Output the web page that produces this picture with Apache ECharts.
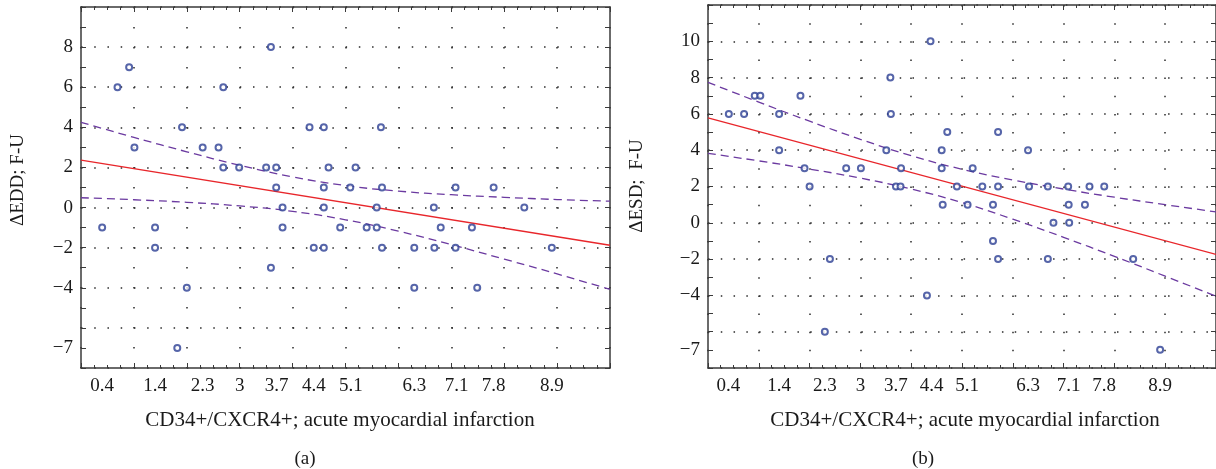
<!DOCTYPE html>
<html>
<head>
<meta charset="utf-8">
<script src="https://cdn.jsdelivr.net/npm/echarts@6/dist/echarts.min.js"></script>
<style>
html,body{margin:0;padding:0;background:#fff;}
#c{width:1216px;height:469px;}
</style>
</head>
<body>
<div id="c"></div>
<script>
// ---- data ----
const xTickLabels = [0.4, 1.4, 2.3, 3, 3.7, 4.4, 5.1, 6.3, 7.1, 7.8, 8.9];
const yTickLabelsA = [8, 6, 4, 2, 0, -2, -4, -7];
const yTickLabelsB = [10, 8, 6, 4, 2, 0, -2, -4, -7];

// panel (a): ΔEDD
const ptsAx = [0.69, 0.91, 1.01, 1.91, 2.30, 2.60, 2.69, 2.69, 2.99, 3.59, 3.50, 3.69, 3.69, 4.32, 4.59, 5.67, 4.68, 5.19, 4.59, 5.09, 5.69, 7.08, 7.80,
               0.40, 1.40, 1.40, 2.00, 1.82, 3.59, 3.81, 3.81, 4.59, 5.59, 6.67, 8.38, 4.90, 5.40, 5.59, 6.80, 7.39, 4.40, 4.59, 5.69, 6.30, 6.68, 7.08, 8.90, 6.30, 7.49];
const ptsAy = [6, 7, 3, 4, 3, 3, 6, 2, 2, 8, 2, 2, 1, 4, 4, 4, 2, 2, 1, 1, 1, 1, 1,
               -1, -1, -2, -4, -7, -3, 0, -1, 0, 0, 0, 0, -1, -1, -1, -1, -1, -2, -2, -2, -2, -2, -2, -2, -4, -4];
const fitAx = [0, 10];
const fitAy = [2.37, -1.88];
const bandX = [0, 1, 2, 3, 4, 5, 6, 7, 8, 9, 10];
const bandAup = [4.25, 3.50, 2.78, 2.11, 1.53, 1.10, 0.82, 0.64, 0.51, 0.40, 0.32];
const bandAlo = [0.49, 0.39, 0.26, 0.08, -0.19, -0.61, -1.18, -1.85, -2.57, -3.31, -4.08];

// panel (b): ΔESD
const ptsBx = [0.41, 0.71, 0.92, 1.03, 1.40, 1.40, 1.82, 1.90, 2.00, 2.72, 3.01, 3.59, 3.60, 3.51, 3.80, 3.70, 3.79, 4.38, 4.71, 5.71, 4.60, 6.30, 4.60, 5.21,
               4.90, 5.40, 5.71, 6.32, 6.69, 7.09, 7.51, 7.80, 2.40, 2.30, 4.62, 5.11, 5.61, 7.10, 7.42, 6.80, 7.11, 5.61, 5.71, 6.69, 8.37, 4.31, 8.90];
const ptsBy = [6, 6, 7, 7, 6, 4, 7, 3, 2, 3, 3, 8, 6, 4, 3, 2, 2, 10, 5, 5, 4, 4, 3, 3,
               2, 2, 2, 2, 2, 2, 2, 2, -2, -6, 1, 1, 1, 1, 1, 0, 0, -1, -2, -2, -2, -4, -7];
const fitBx = [0, 10];
const fitBy = [5.78, -1.74];
const bandBup = [7.74, 6.65, 5.60, 4.60, 3.70, 2.95, 2.36, 1.86, 1.41, 1.00, 0.60];
const bandBlo = [3.83, 3.41, 2.96, 2.46, 1.86, 1.11, 0.20, -0.80, -1.85, -2.94, -4.04];

// ---- styling ----
const FONT = "'Liberation Serif', 'DejaVu Serif', serif";
const AX = '#3a3a3a';
const DOT = '#2a2a2a';
const PT = '#2c3f94';
const RED = '#e8262b';
const PUR = '#6b3aa0';
const TXT = '#1a1a1a';

function fmt(v) { return v < 0 ? '\u2212' + Math.abs(v) : String(v); }
function zip(xs, ys) { return xs.map((x, i) => [x, ys[i]]); }

function xAxes(g, vPeriod) {
  const base = {
    type: 'value', gridIndex: g, min: 0, max: 10, interval: 1,
    axisLine: { show: true, onZero: false, lineStyle: { color: AX, width: 1.5 } },
    axisTick: { show: true, inside: true, length: 5, lineStyle: { color: AX, width: 1 } },
    minorTick: { show: true, splitNumber: 4, length: 3, lineStyle: { color: AX, width: 1 } },
    minorSplitLine: { show: false }
  };
  return [
    Object.assign({}, base, {
      position: 'bottom',
      axisLabel: { customValues: xTickLabels, formatter: fmt, fontFamily: FONT, fontSize: 19, color: TXT, margin: 9 },
      splitLine: { show: true, lineStyle: { color: DOT, width: 1.5, type: [1.5, vPeriod - 1.5] } }
    }),
    Object.assign({}, base, {
      position: 'top',
      axisLabel: { show: false },
      splitLine: { show: false }
    })
  ];
}
function yAxes(g, min, max, labels, hPeriod) {
  const base = {
    type: 'value', gridIndex: g, min: min, max: max, interval: 2,
    axisLine: { show: true, onZero: false, lineStyle: { color: AX, width: 1.5 } },
    axisTick: { show: true, inside: true, length: 5, lineStyle: { color: AX, width: 1 } },
    minorTick: { show: true, splitNumber: 2, length: 5, lineStyle: { color: AX, width: 1 } },
    minorSplitLine: { show: false }
  };
  return [
    Object.assign({}, base, {
      position: 'left',
      axisLabel: { customValues: labels, formatter: fmt, fontFamily: FONT, fontSize: 19, color: TXT, margin: 8 },
      splitLine: { show: true, lineStyle: { color: DOT, width: 1.5, type: [1.5, hPeriod - 1.5] } }
    }),
    Object.assign({}, base, {
      position: 'right',
      axisLabel: { show: false },
      splitLine: { show: false }
    })
  ];
}

function panelSeries(xi, yi, px, py, fx, fy, up, lo) {
  return [
    { type: 'line', xAxisIndex: xi, yAxisIndex: yi, data: zip(bandX, up), smooth: 0.5, showSymbol: false, silent: true,
      lineStyle: { color: PUR, width: 1.3, type: [8, 5] }, z: 3 },
    { type: 'line', xAxisIndex: xi, yAxisIndex: yi, data: zip(bandX, lo), smooth: 0.5, showSymbol: false, silent: true,
      lineStyle: { color: PUR, width: 1.3, type: [8, 5] }, z: 3 },
    { type: 'line', xAxisIndex: xi, yAxisIndex: yi, data: zip(fx, fy), showSymbol: false, silent: true,
      lineStyle: { color: RED, width: 1.3 }, z: 4 },
    { type: 'scatter', xAxisIndex: xi, yAxisIndex: yi, data: zip(px, py), symbol: 'emptyCircle', symbolSize: 6,
      itemStyle: { color: PT, borderColor: PT, borderWidth: 1.4 }, z: 5 }
  ];
}

const chart = echarts.init(document.getElementById('c'), null, { renderer: 'canvas' });
chart.setOption({
  animation: false,
  backgroundColor: '#fff',
  grid: [
    { left: 81, top: 7, right: 606, bottom: 101 },
    { left: 708, top: 5, right: -3, bottom: 101 }
  ],
  xAxis: [].concat(xAxes(0, 20), xAxes(1, 18.15)),
  yAxis: [].concat(yAxes(0, -8, 10, yTickLabelsA, 13.23), yAxes(1, -8, 12, yTickLabelsB, 12.78)),
  series: [].concat(
    panelSeries(0, 0, ptsAx, ptsAy, fitAx, fitAy, bandAup, bandAlo),
    panelSeries(2, 2, ptsBx, ptsBy, fitBx, fitBy, bandBup, bandBlo)
  ),
  graphic: [
    { type: 'text', x: 18, y: 180, rotation: Math.PI / 2, style: { text: '\u0394EDD; F-U', font: '19px ' + FONT, fill: TXT, textAlign: 'center', textVerticalAlign: 'middle' } },
    { type: 'text', x: 637, y: 186, rotation: Math.PI / 2, style: { text: '\u0394ESD;  F-U', font: '19px ' + FONT, fill: TXT, textAlign: 'center', textVerticalAlign: 'middle' } },
    { type: 'text', x: 340, y: 420, style: { text: 'CD34+/CXCR4+; acute myocardial infarction', font: '21px ' + FONT, fill: TXT, textAlign: 'center', textVerticalAlign: 'middle' } },
    { type: 'text', x: 965, y: 420, style: { text: 'CD34+/CXCR4+; acute myocardial infarction', font: '21px ' + FONT, fill: TXT, textAlign: 'center', textVerticalAlign: 'middle' } },
    { type: 'text', x: 305, y: 459, style: { text: '(a)', font: '19px ' + FONT, fill: TXT, textAlign: 'center', textVerticalAlign: 'middle' } },
    { type: 'text', x: 923, y: 459, style: { text: '(b)', font: '19px ' + FONT, fill: TXT, textAlign: 'center', textVerticalAlign: 'middle' } }
  ]
});
</script>
</body>
</html>
